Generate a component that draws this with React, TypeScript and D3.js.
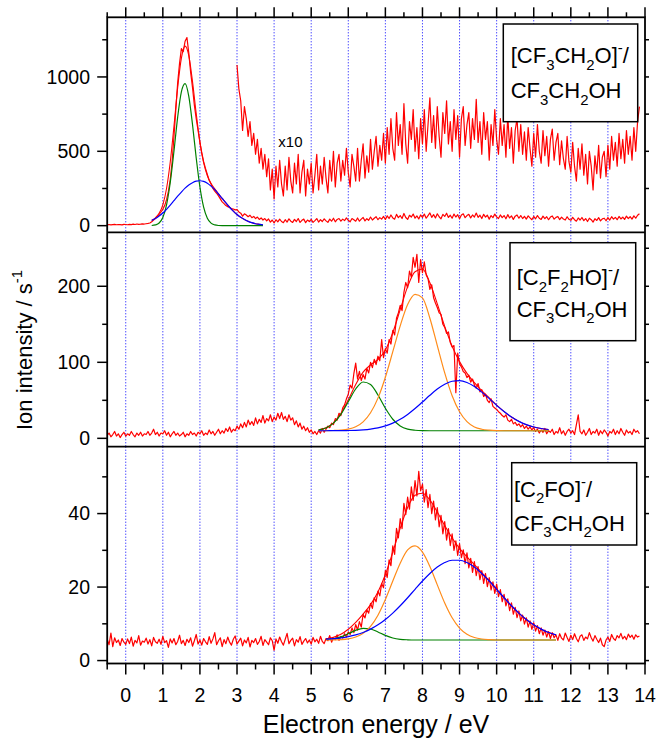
import React from 'react';
import * as d3 from 'd3';

// ---------- DATA ----------
// Energy grid of the measured spectra (eV)
const E_START = -0.5;
const E_STEP = 0.05;

// [CF3CH2O]- / CF3CH2OH  (ion counts / s)
const topData = [
  6, 8, 5, 7, 9, 6, 8, 7, 5, 9,
  8, 6, 9, 7, 10, 8, 11, 9, 10, 12, 11, 13, 15, 18, 26, 38, 48, 62, 75, 92,
  110, 135, 175, 230, 310, 430, 600, 780, 960, 1090, 1190, 1170, 1240, 1265, 1160, 1030, 930, 810, 720, 640,
  560, 490, 430, 385, 345, 305, 280, 250, 232, 218, 200, 180, 160, 148, 135, 128, 122, 115, 112, 106,
  108, 92, 84, 64, 80, 72, 60, 70, 54, 62, 48, 58, 42, 52, 38, 48, 33, 45, 24, 38,
  18, 40, 26, 44, 28, 20, 40, 24, 46, 30, 22, 42, 28, 48, 22, 36, 44, 20, 38, 28,
  42, 22, 34, 48, 24, 40, 28, 46, 32, 22, 44, 30, 50, 26, 42, 48, 30, 44, 34, 52,
  36, 26, 48, 40, 30, 52, 30, 44, 55, 32, 47, 36, 58, 38, 50, 60, 40, 54, 44, 62,
  42, 66, 48, 72, 52, 44, 76, 54, 68, 48, 82, 55, 42, 70, 58, 78, 50, 66, 45, 72,
  55, 78, 50, 68, 86, 56, 74, 52, 80, 60, 46, 76, 62, 84, 55, 70, 50, 78, 58, 74,
  46, 72, 80, 54, 68, 76, 52, 72, 58, 85, 56, 70, 48, 76, 58, 70, 44, 68, 54, 78,
  58, 48, 72, 54, 68, 46, 74, 52, 66, 42, 64, 72, 50, 68, 48, 63, 44, 66, 52, 40,
  62, 46, 68, 50, 42, 64, 47, 60, 40, 58, 65, 44, 56, 62, 41, 57, 45, 38, 60, 43,
  36, 56, 40, 30, 52, 38, 55, 34, 48, 28, 50, 40, 24, 47, 35, 54, 32, 46, 50, 33,
  54, 38, 60, 44, 56, 40, 62, 45, 58, 42, 64, 48, 60, 44, 66, 50, 70, 80,
];
const X10_START = 3.0;
const X10_FACTOR = 10;

// [C2F2HO]- / CF3CH2OH
const midData = [
  4, 7, 2, 5, 9, 3, 6, 1, 5, 8,
  3, 6, 4, 9, 5, 2, 7, 4, 8, 3, 6, 5, 9, 4, 7, 12, 5, 8, 3, 7,
  6, 10, 4, 8, 2, 6, 9, 4, 7, 3, 5, 8, 2, 6, 4, 9, 5, 7, 3, 8,
  6, 10, 4, 7, 5, 11, 6, 9, 4, 8, 12, 6, 10, 7, 13, 9, 15, 8, 12, 10,
  16, 12, 19, 14, 21, 15, 24, 18, 22, 17, 27, 19, 25, 21, 30, 20, 26, 23, 31, 22,
  28, 24, 33, 26, 34, 25, 29, 22, 31, 24, 27, 18, 23, 15, 20, 12, 16, 10, 14, 8,
  11, 6, 9, 5, 10, 7, 13, 8, 12, 16, 14, 20, 18, 26, 24, 33, 30, 40, 44, 52,
  58, 70, 66, 85, 99, 78, 88, 76, 84, 78, 92, 86, 100, 93, 104, 97, 108, 102, 130, 106,
  118, 112, 130, 124, 142, 136, 158, 165, 175, 168, 192, 205, 198, 220, 212, 238, 225, 242, 205, 235,
  218, 232, 215, 210, 196, 202, 185, 178, 172, 165, 163, 150, 146, 138, 140, 126, 120, 122, 60, 112,
  98, 94, 88, 86, 80, 83, 74, 78, 70, 66, 72, 61, 64, 55, 58, 50, 47, 52, 42, 40,
  38, 35, 33, 30, 28, 31, 24, 22, 25, 19, 21, 17, 19, 15, 18, 13, 16, 12, 15, 11,
  14, 9, 12, 7, 11, 8, 13, 6, 10, 8, 12, 5, 9, 7, 14, 6, 10, 4, 9, 12,
  7, 10, 5, 18, 31, 9, 6, 11, 4, 8, 13, 5, 9, 7, 12, 4, 10, 6, 11, 8,
  3, 9, 7, 12, 5, 10, 6, 13, 8, 4, 11, 7, 9, 5, 12, 8, 10, 6,
];

// [C2FO]- / CF3CH2OH
const botData = [
  5.8, 4.3, 7.5, 3.8, 6.2, 4.9, 5.6, 4.1, 6.0, 5.0,
  4.4, 5.9, 4.6, 6.4, 3.9, 5.5, 4.8, 6.8, 4.2, 5.3, 5.0, 6.1, 4.5, 5.7, 4.0, 6.3, 5.1, 4.7, 5.8, 4.4,
  6.6, 4.9, 5.4, 3.6, 5.9, 4.8, 6.0, 4.3, 5.2, 6.9, 4.6, 5.5, 4.1, 5.8, 4.9, 6.2, 3.9, 5.4, 7.1, 4.5,
  5.6, 4.2, 6.0, 5.1, 4.4, 6.5, 4.7, 5.9, 7.6, 4.3, 5.4, 6.2, 3.8, 5.7, 4.6, 6.4, 5.0, 4.2, 5.8, 6.7,
  4.5, 5.3, 6.1, 4.0, 5.6, 4.8, 6.3, 3.7, 5.5, 4.9, 6.0, 4.4, 5.2, 6.6, 4.1, 5.7, 5.0, 4.3, 6.2, 5.4,
  2.8, 5.9, 4.7, 6.4, 5.1, 4.2, 5.8, 7.4, 4.6, 5.5, 6.1, 4.0, 5.7, 5.0, 6.5, 4.4, 5.3, 6.0, 4.8, 5.6,
  4.5, 6.3, 5.1, 5.8, 4.7, 6.6, 5.2, 4.6, 6.0, 5.4, 6.8, 5.0, 6.2, 5.7, 7.0, 5.5, 6.6, 6.1, 7.3, 6.4,
  7.8, 7.1, 8.9, 7.6, 9.8, 8.3, 10.6, 9.1, 12.6, 11.6, 13.8, 12.9, 15.6, 14.2, 17.1, 16.0, 18.9, 17.6, 21.0, 19.8,
  24.5, 22.6, 27.4, 25.8, 31.2, 28.9, 36.0, 33.4, 38.6, 35.9, 42.8, 39.7, 44.5, 41.2, 47.3, 43.6, 49.0, 44.8, 51.5, 46.2,
  48.0, 43.1, 46.5, 41.6, 45.2, 40.0, 43.4, 38.3, 41.6, 36.4, 39.5, 34.5, 37.8, 32.8, 35.9, 31.3, 34.5, 30.0, 32.6, 28.6,
  31.8, 28.0, 30.1, 26.4, 29.3, 25.2, 27.8, 24.0, 26.9, 23.1, 25.6, 22.0, 24.5, 21.0, 23.7, 20.1, 22.6, 19.2, 21.4, 18.3,
  20.8, 17.4, 19.3, 16.0, 18.0, 14.9, 16.8, 13.6, 15.7, 12.6, 14.5, 11.7, 13.5, 10.8, 12.4, 9.9, 11.6, 9.1, 10.8, 8.5,
  10.3, 8.0, 9.5, 7.3, 8.9, 6.9, 8.3, 6.4, 7.9, 6.0, 7.6, 6.2, 7.0, 5.5, 7.3, 6.1, 5.6, 7.5, 6.3, 5.2,
  6.9, 5.7, 7.3, 6.0, 5.1, 6.6, 7.0, 5.5, 6.4, 5.9, 7.6, 6.2, 5.3, 6.8, 5.8, 4.9, 6.1, 4.3, 3.8, 5.6,
  6.4, 5.2, 7.1, 6.0, 5.5, 6.8, 6.2, 7.4, 5.9, 6.6, 5.7, 7.2, 6.3, 6.9, 5.8, 7.0, 6.4, 6.7,
];

// Gaussian fit components
const topFitE = [0.7, 0.8, 0.9, 1.0, 1.1, 1.2, 1.3, 1.4, 1.5, 1.6, 1.7, 1.8, 1.9, 2.0, 2.1, 2.2, 2.3, 2.4, 2.5, 2.6, 2.7, 2.8, 2.9, 3.0, 3.1, 3.2, 3.3, 3.4, 3.5, 3.6, 3.7];
const topGreen = [1, 5, 18, 55, 140, 290, 500, 730, 900, 955, 870, 680, 455, 260, 125, 50, 17, 5, 1, 0, 0, 0, 0, 0, 0, 0, 0, 0, 0, 0, 0];
const topBlue = [35, 48, 65, 85, 110, 138, 168, 198, 226, 252, 273, 289, 299, 302, 298, 286, 266, 242, 213, 183, 153, 124, 98, 75, 56, 41, 29, 20, 13, 9, 5];
const topBase = 0;

const midFitE = [5.2, 5.4, 5.6, 5.8, 6.0, 6.2, 6.4, 6.6, 6.8, 7.0, 7.2, 7.4, 7.6, 7.8, 8.0, 8.2, 8.4, 8.6, 8.8, 9.0, 9.2, 9.4, 9.6, 9.8, 10.0, 10.2, 10.4, 10.6, 10.8, 11.0, 11.2, 11.4];
const midGreen = [11.1, 13.7, 20, 31.6, 48.2, 64.9, 74.1, 70.9, 57, 39.5, 25.1, 16.3, 12.1, 10.6, 10.1, 10, 10, 10, 10, 10, 10, 10, 10, 10, 10, 10, 10, 10, 10, 10, 10, 10];
const midOrange = [10, 10.1, 10.3, 10.8, 12.1, 15.2, 21.7, 33.6, 52.9, 80.4, 114, 148, 176, 189.4, 184.8, 158, 122, 86, 56, 35, 22, 15, 12, 10.8, 10.2, 10, 10, 10, 10, 10, 10, 10];
const midBlue = [10, 10, 10.1, 10.1, 10.3, 10.6, 11.2, 12.2, 13.8, 16.3, 20, 25, 31.4, 39.2, 47.8, 56.6, 64.8, 71.2, 75.1, 75.9, 73.5, 68.2, 60.8, 52.3, 43.4, 35.2, 28, 22.3, 18, 14.9, 12.9, 11.6];
const midBase = 10;

const botFitE = [5.4, 5.6, 5.8, 6.0, 6.2, 6.4, 6.6, 6.8, 7.0, 7.2, 7.4, 7.6, 7.8, 8.0, 8.2, 8.4, 8.6, 8.8, 9.0, 9.2, 9.4, 9.6, 9.8, 10.0, 10.2, 10.4, 10.6, 10.8, 11.0, 11.2, 11.4, 11.6];
const botGreen = [5.7, 5.93, 6.45, 7.3, 8.23, 8.77, 8.58, 7.78, 6.84, 6.15, 5.79, 5.65, 5.6, 5.6, 5.6, 5.6, 5.6, 5.6, 5.6, 5.6, 5.6, 5.6, 5.6, 5.6, 5.6, 5.6, 5.6, 5.6, 5.6, 5.6, 5.6, 5.6];
const botOrange = [5.61, 5.64, 5.71, 5.91, 6.4, 7.42, 9.3, 12.34, 16.6, 21.65, 26.5, 30.1, 31.2, 29.5, 25.6, 20.6, 15.66, 11.64, 8.84, 7.16, 6.27, 5.86, 5.69, 5.6, 5.6, 5.6, 5.6, 5.6, 5.6, 5.6, 5.6, 5.6];
const botBlue = [5.81, 5.96, 6.18, 6.51, 6.98, 7.65, 8.55, 9.72, 11.17, 12.91, 14.91, 17.1, 19.4, 21.65, 23.7, 25.44, 26.67, 27.3, 27.3, 26.67, 25.44, 23.7, 21.65, 19.4, 17.1, 14.91, 12.91, 11.17, 9.72, 8.55, 7.65, 6.98];
const botBase = 5.6;

// Axis ticks
const xMajor = [0, 1, 2, 3, 4, 5, 6, 7, 8, 9, 10, 11, 12, 13, 14];
const xMinor = [-0.5, 0.5, 1.5, 2.5, 3.5, 4.5, 5.5, 6.5, 7.5, 8.5, 9.5, 10.5, 11.5, 12.5, 13.5];
const xGrid = [0, 1, 2, 3, 4, 5, 6, 7, 8, 9, 10, 11, 12, 13];
const topMajor = [0, 500, 1000];
const topMinor = [250, 750, 1250];
const midMajor = [0, 100, 200];
const midMinor = [50, 150, 250];
const botMajor = [0, 20, 40];
const botMinor = [10, 30, 50];

// ---------- LAYOUT ----------
const W = 657;
const H = 740;
const X0 = 107.2;
const X1 = 645;
const FONT = '"Liberation Sans", Arial, Helvetica, sans-serif';
const RED = '#ff0000';
const GREEN = '#008000';
const BLUE = '#0000ff';
const ORANGE = '#ff8c1a';

type Tok = { t: string; k?: 'sub' | 'sup' };

function Rich({ x, y, toks, size, anchor, transform }: { x: number; y: number; toks: Tok[]; size: number; anchor?: string; transform?: string }) {
  let cur = 0;
  const parts = toks.map((tk, i) => {
    const target = tk.k === 'sub' ? size * 0.3 : tk.k === 'sup' ? -size * 0.45 : 0;
    const dy = target - cur;
    cur = target;
    return (
      <tspan key={i} dy={dy} fontSize={tk.k ? size * 0.68 : size}>
        {tk.t}
      </tspan>
    );
  });
  return (
    <text x={x} y={y} fontSize={size} textAnchor={anchor || 'start'} transform={transform} fontFamily={FONT} fill="#000">
      {parts}
    </text>
  );
}

const alcohol: Tok[] = [{ t: 'CF' }, { t: '3', k: 'sub' }, { t: 'CH' }, { t: '2', k: 'sub' }, { t: 'OH' }];

export default function App() {
  const xs = d3.scaleLinear().domain([-0.5, 14]).range([X0, X1]);

  const panels = [
    {
      id: 'top', y0: 17.3, y1: 232.3, domain: [-44.6, 1401], major: topMajor, minor: topMinor,
      data: topData, fitE: topFitE, comps: [{ v: topGreen, c: GREEN }, { v: topBlue, c: BLUE }], base: topBase,
      legend: { x: 503.3, y: 24, w: 134.4, h: 97.7, tx: 510.7, b1: 63.3, b2: 98.3,
        l1: [{ t: '[CF' }, { t: '3', k: 'sub' }, { t: 'CH' }, { t: '2', k: 'sub' }, { t: 'O]' }, { t: '-', k: 'sup' }, { t: '/' }] as Tok[] },
    },
    {
      id: 'mid', y0: 232.3, y1: 446.7, domain: [-11, 271], major: midMajor, minor: midMinor,
      data: midData, fitE: midFitE, comps: [{ v: midGreen, c: GREEN }, { v: midOrange, c: ORANGE }, { v: midBlue, c: BLUE }], base: midBase,
      legend: { x: 510, y: 242.7, w: 125.7, h: 98, tx: 516.7, b1: 285, b2: 316.7,
        l1: [{ t: '[C' }, { t: '2', k: 'sub' }, { t: 'F' }, { t: '2', k: 'sub' }, { t: 'HO]' }, { t: '-', k: 'sup' }, { t: '/' }] as Tok[] },
    },
    {
      id: 'bot', y0: 446.7, y1: 663.5, domain: [-0.8, 58.2], major: botMajor, minor: botMinor,
      data: botData, fitE: botFitE, comps: [{ v: botGreen, c: GREEN }, { v: botOrange, c: ORANGE }, { v: botBlue, c: BLUE }], base: botBase,
      legend: { x: 511.7, y: 462.7, w: 125, h: 82.3, tx: 514, b1: 496.7, b2: 530.7,
        l1: [{ t: '[C' }, { t: '2', k: 'sub' }, { t: 'FO]' }, { t: '-', k: 'sup' }, { t: '/' }] as Tok[] },
    },
  ];

  const tickW = 1.5;

  return (
    <svg width={W} height={H} style={{ position: 'absolute', left: 0, top: 0, background: '#fff' }} xmlns="http://www.w3.org/2000/svg">
      <rect x={0} y={0} width={W} height={H} fill="#fff" />
      <defs>
        {panels.map((p) => (
          <clipPath id={`clip-${p.id}`} key={p.id}>
            <rect x={X0} y={p.y0} width={X1 - X0} height={p.y1 - p.y0} />
          </clipPath>
        ))}
      </defs>

      {panels.map((p) => {
        const ys = d3.scaleLinear().domain(p.domain).range([p.y1, p.y0]);
        const line = d3.line<[number, number]>().x((d) => xs(d[0])).y((d) => ys(d[1]));
        const smooth = d3.line<[number, number]>().x((d) => xs(d[0])).y((d) => ys(d[1])).curve(d3.curveMonotoneX);
        const pts: [number, number][] = p.data.map((v, i) => [E_START + i * E_STEP, v]);
        const x10: [number, number][] | null = p.id === 'top'
          ? pts.filter((d) => d[0] >= X10_START - 1e-9).map((d) => [d[0], d[1] * X10_FACTOR] as [number, number])
          : null;
        const nComp = p.comps.length;
        const sum: [number, number][] = p.fitE.map((e, i) => {
          let s = 0;
          p.comps.forEach((c) => { s += c.v[i]; });
          return [e, s - (nComp - 1) * p.base];
        });
        return (
          <g key={p.id}>
            <g clipPath={`url(#clip-${p.id})`}>
              {xGrid.map((g) => (
                <line key={g} x1={xs(g)} x2={xs(g)} y1={p.y0} y2={p.y1} stroke={BLUE} strokeWidth={1} strokeDasharray="1 2" />
              ))}
              <path d={line(pts) || ''} fill="none" stroke={RED} strokeWidth={1.2} strokeLinejoin="round" />
              {x10 && <path d={line(x10) || ''} fill="none" stroke={RED} strokeWidth={1.2} strokeLinejoin="round" />}
              <path d={smooth(sum) || ''} fill="none" stroke={RED} strokeWidth={1.1} />
              {p.comps.map((c, ci) => (
                <path key={ci} d={smooth(p.fitE.map((e, i) => [e, c.v[i]] as [number, number])) || ''} fill="none" stroke={c.c} strokeWidth={1.2} />
              ))}
            </g>
            {p.major.map((t) => (
              <g key={'M' + t}>
                <line x1={X0 - 10} x2={X0} y1={ys(t)} y2={ys(t)} stroke="#000" strokeWidth={tickW} />
                <line x1={X1} x2={X1 + 4} y1={ys(t)} y2={ys(t)} stroke="#000" strokeWidth={tickW} />
                <text x={90} y={ys(t)} dy="0.35em" textAnchor="end" fontSize={19.5} fontFamily={FONT} fill="#000">{t}</text>
              </g>
            ))}
            {p.minor.map((t) => (
              <g key={'m' + t}>
                <line x1={X0 - 5} x2={X0} y1={ys(t)} y2={ys(t)} stroke="#000" strokeWidth={tickW} />
                <line x1={X1} x2={X1 + 4} y1={ys(t)} y2={ys(t)} stroke="#000" strokeWidth={tickW} />
              </g>
            ))}
            <rect x={p.legend.x} y={p.legend.y} width={p.legend.w} height={p.legend.h} fill="#fff" stroke="#000" strokeWidth={1.5} />
            <Rich x={p.legend.tx} y={p.legend.b1} toks={p.legend.l1} size={22} />
            <Rich x={p.legend.tx} y={p.legend.b2} toks={alcohol} size={22} />
          </g>
        );
      })}

      <text x={278.3} y={147} fontSize={15} fontFamily={FONT} fill="#000">x10</text>

      <rect x={X0} y={17.3} width={X1 - X0} height={663.5 - 17.3} fill="none" stroke="#000" strokeWidth={1.8} />
      <line x1={X0} x2={X1} y1={232.3} y2={232.3} stroke="#000" strokeWidth={1.8} />
      <line x1={X0} x2={X1} y1={446.7} y2={446.7} stroke="#000" strokeWidth={1.8} />

      {xMajor.map((t) => (
        <g key={'xm' + t}>
          <line x1={xs(t)} x2={xs(t)} y1={17.3} y2={7.3} stroke="#000" strokeWidth={tickW} />
          <line x1={xs(t)} x2={xs(t)} y1={663.5} y2={674.5} stroke="#000" strokeWidth={tickW} />
          <text x={xs(t)} y={701.5} textAnchor="middle" fontSize={19.5} fontFamily={FONT} fill="#000">{t}</text>
        </g>
      ))}
      {xMinor.map((t) => (
        <g key={'xn' + t}>
          <line x1={xs(t)} x2={xs(t)} y1={17.3} y2={12.3} stroke="#000" strokeWidth={tickW} />
          <line x1={xs(t)} x2={xs(t)} y1={663.5} y2={669.5} stroke="#000" strokeWidth={tickW} />
        </g>
      ))}

      <text x={376} y={733} textAnchor="middle" fontSize={25} fontFamily={FONT} fill="#000">Electron energy / eV</text>
      <Rich x={0} y={0} toks={[{ t: 'Ion intensity / s' }, { t: '-1', k: 'sup' }]} size={22} anchor="middle" transform="translate(32,350) rotate(-90)" />
    </svg>
  );
}
